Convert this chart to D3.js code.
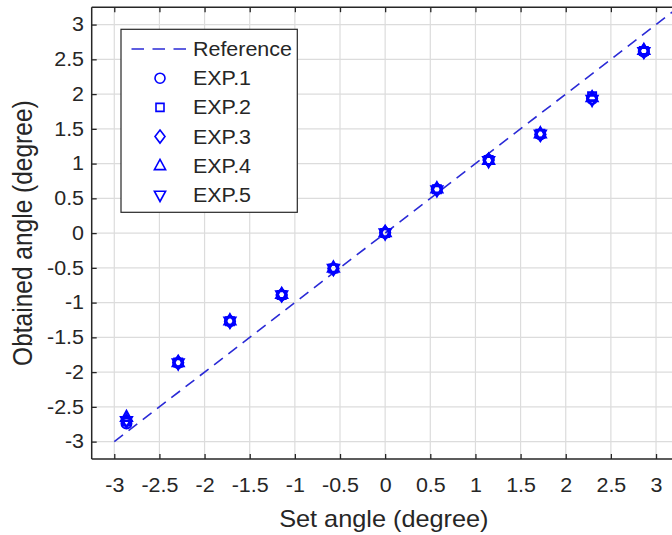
<!DOCTYPE html>
<html>
<head>
<meta charset="utf-8">
<script src="https://cdn.jsdelivr.net/npm/d3@7"></script>
<style>
  html, body { margin: 0; padding: 0; background: #ffffff; }
  svg { display: block; }
  text { font-family: "Liberation Sans", Arial, sans-serif; fill: #262626; }
</style>
</head>
<body>
<svg id="chart" width="672" height="535"></svg>
<script>
// ---- data ----
const setAngles = [-2.865, -2.292, -1.719, -1.146, -0.573, 0, 0.573, 1.146, 1.719, 2.292, 2.865];
const exp1 = [-2.74, -1.87, -1.27, -0.89, -0.51, 0.00, 0.63, 1.05, 1.42, 1.93, 2.61];
const exp2 = [-2.71, -1.86, -1.27, -0.89, -0.51, 0.00, 0.63, 1.05, 1.43, 1.97, 2.62];
const exp3 = [-2.70, -1.86, -1.27, -0.89, -0.51, 0.01, 0.63, 1.05, 1.42, 1.94, 2.62];
const exp4 = [-2.65, -1.86, -1.26, -0.88, -0.50, 0.01, 0.64, 1.05, 1.43, 1.95, 2.63];
const exp5 = [-2.70, -1.87, -1.27, -0.89, -0.51, 0.00, 0.62, 1.04, 1.42, 1.92, 2.61];
const seriesNames = ["EXP.1", "EXP.2", "EXP.3", "EXP.4", "EXP.5"];
const seriesShapes = ["circle", "square", "diamond", "triUp", "triDown"];
const refX = [-3, 3.25];
const xTicks = [-3, -2.5, -2, -1.5, -1, -0.5, 0, 0.5, 1, 1.5, 2, 2.5, 3];
const yTicks = [-3, -2.5, -2, -1.5, -1, -0.5, 0, 0.5, 1, 1.5, 2, 2.5, 3];
const xLabel = "Set angle (degree)";
const yLabel = "Obtained angle (degree)";
const refName = "Reference";

(function () {
// ---- layout ----
const pL = 91.7, pR = 678.6, pT = 7.2, pB = 459;
const sx = 1.1; // horizontal text stretch
const axisColor = "#262626", gridColor = "#dcdcdc", blue = "#0000ff", lineBlue = "#2a2ad6";

const svg = d3.select("#chart");
const x = d3.scaleLinear().domain([-3.25, 3.25]).range([pL, pR]);
const y = d3.scaleLinear().domain([-3.25, 3.25]).range([pB, pT]);

// grid
svg.append("g").selectAll("line").data(xTicks).join("line")
  .attr("x1", d => x(d)).attr("x2", d => x(d)).attr("y1", pT).attr("y2", pB)
  .attr("stroke", gridColor).attr("stroke-width", 1.2);
svg.append("g").selectAll("line").data(yTicks).join("line")
  .attr("y1", d => y(d)).attr("y2", d => y(d)).attr("x1", pL).attr("x2", pR)
  .attr("stroke", gridColor).attr("stroke-width", 1.2);

// reference line
svg.append("path")
  .attr("d", d3.line().x(d => x(d)).y(d => y(d))(refX))
  .attr("fill", "none").attr("stroke", lineBlue).attr("stroke-width", 1.6)
  .attr("stroke-dasharray", "11,7");

// marker shapes
function shapePath(s) {
  switch (s) {
    case "circle": return d3.arc()({innerRadius: 0, outerRadius: 5, startAngle: 0, endAngle: 2 * Math.PI});
    case "square": return "M-4,-4H4V4H-4Z";
    case "diamond": return "M0,-6.5L5,0L0,6.5L-5,0Z";
    case "triUp": return "M0,-6.5L5.6,3.8L-5.6,3.8Z";
    case "triDown": return "M0,6.5L5.6,-3.8L-5.6,-3.8Z";
  }
}
const allSeries = [exp1, exp2, exp3, exp4, exp5];
allSeries.forEach((vals, i) => {
  svg.append("g").selectAll("path").data(vals).join("path")
    .attr("transform", (d, j) => `translate(${x(setAngles[j])},${y(d)})`)
    .attr("d", shapePath(seriesShapes[i]))
    .attr("fill", "none").attr("stroke", blue).attr("stroke-width", 2);
});

// axes
const fmt = d => String(d);
const gx = svg.append("g").attr("transform", `translate(0,${pB})`)
  .call(d3.axisBottom(x).tickValues(xTicks).tickFormat(fmt).tickSizeInner(-5).tickSizeOuter(0).tickPadding(19));
const gxTop = svg.append("g").attr("transform", `translate(0,${pT})`)
  .call(d3.axisTop(x).tickValues(xTicks).tickFormat("").tickSizeInner(-5).tickSizeOuter(0));
const gy = svg.append("g").attr("transform", `translate(${pL},0)`)
  .call(d3.axisLeft(y).tickValues(yTicks).tickFormat(fmt).tickSizeInner(-5).tickSizeOuter(0).tickPadding(7));
const gyR = svg.append("g").attr("transform", `translate(${pR},0)`)
  .call(d3.axisRight(y).tickValues(yTicks).tickFormat("").tickSizeInner(-5).tickSizeOuter(0));
[gx, gxTop, gy, gyR].forEach(g => {
  g.selectAll(".domain").attr("stroke", axisColor).attr("stroke-width", 1.5);
  g.selectAll(".tick line").attr("stroke", axisColor).attr("stroke-width", 1.3);
  g.selectAll("text").attr("font-family", null).attr("font-size", 19.5).attr("fill", axisColor)
    .attr("transform", `scale(${sx},1)`);
});
gx.select(".domain").attr("d", `M${pL},0H${pR}`);
gxTop.select(".domain").attr("d", `M${pL},0H${pR}`);
gy.select(".domain").attr("d", `M0,${pT}V${pB}`);

// axis labels
svg.append("text").attr("transform", `translate(${(pL + 672) / 2 + 2},527) scale(${sx},1)`)
  .attr("text-anchor", "middle").attr("font-size", 23).text(xLabel);
svg.append("text").attr("transform", `translate(32,${(pT + pB) / 2}) rotate(-90) scale(1,${sx})`)
  .attr("text-anchor", "middle").attr("font-size", 24.5).text(yLabel);

// legend
const lg = svg.append("g");
lg.append("rect").attr("x", 121).attr("y", 29.3).attr("width", 176.3).attr("height", 183)
  .attr("fill", "#ffffff").attr("stroke", axisColor).attr("stroke-width", 1.2);
const rowY = i => 49 + i * 29.2;
lg.append("line").attr("x1", 131.5).attr("x2", 187).attr("y1", rowY(0)).attr("y2", rowY(0))
  .attr("stroke", lineBlue).attr("stroke-width", 1.6).attr("stroke-dasharray", "12.5,8.5");
const legendLabels = [refName].concat(seriesNames);
legendLabels.forEach((name, i) => {
  lg.append("text").attr("transform", `translate(193,${rowY(i) + 7}) scale(${sx},1)`)
    .attr("font-size", 19.5).text(name);
  if (i > 0) {
    lg.append("path").attr("transform", `translate(160,${rowY(i)})`)
      .attr("d", shapePath(seriesShapes[i - 1]))
      .attr("fill", "none").attr("stroke", blue).attr("stroke-width", 1.6);
  }
});
})();
</script>
</body>
</html>
